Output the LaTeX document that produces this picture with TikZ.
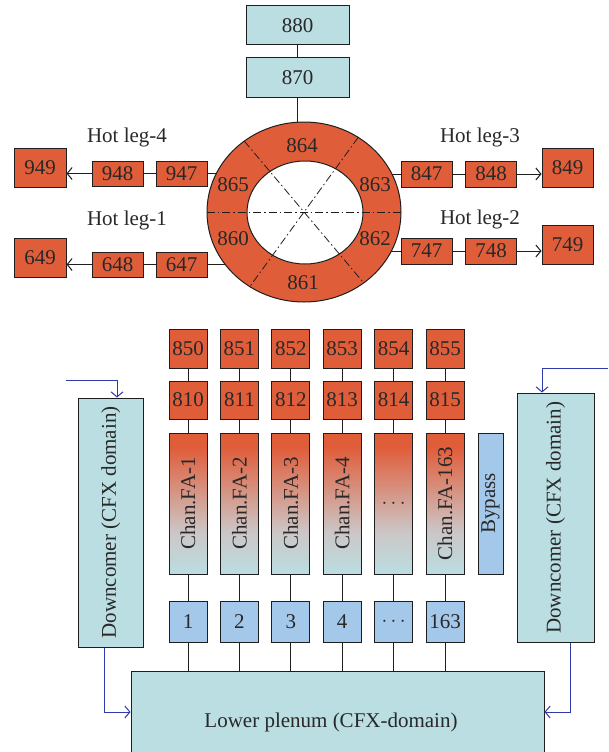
\documentclass[tikz,border=0pt]{standalone}
\usepackage{fontspec}
\setmainfont{Liberation Serif}
\usetikzlibrary{arrows.meta,shapes.geometric,backgrounds}
\definecolor{org}{RGB}{224,93,58}
\definecolor{cy}{RGB}{186,222,226}
\definecolor{bl}{RGB}{164,200,234}
\definecolor{gr}{RGB}{204,198,198}
\definecolor{arr}{RGB}{48,58,168}
\definecolor{txt}{RGB}{40,40,40}
\definecolor{ln}{RGB}{30,30,30}
\pgfdeclareverticalshading{chanshade}{100bp}{color(0bp)=(cy); color(25bp)=(cy); color(40bp)=(gr); color(70bp)=(org); color(100bp)=(org)}
\tikzset{
 base/.style={draw=ln, line width=1pt, text=txt, font=\fontsize{21}{23}\selectfont, inner sep=0pt},
 obox/.style={base, fill=org},
 cbox/.style={base, fill=cy},
 bbox/.style={base, fill=bl},
 chbox/.style={base, shade, shading=chanshade, minimum width=38pt, minimum height=141pt},
 lbl/.style={text=txt, font=\fontsize{21}{23}\selectfont, inner sep=0pt},
 conn/.style={draw=ln, line width=1pt},
 flow/.style={draw=arr, line width=1pt, -{Straight Barb[length=5pt,width=12pt]}},
 leg/.style={draw=ln, line width=1pt, -{Straight Barb[length=5pt,width=12pt]}},
 dd/.style={draw=ln, dash pattern=on 8pt off 3pt on 1.5pt off 3pt, line width=0.8pt}
}
\begin{document}
\begin{tikzpicture}[x=1pt,y=-1pt]
\useasboundingbox (0,0) rectangle (608,752);
\clip (0,0) rectangle (608,752);
% top vessels
\node[cbox, minimum width=103pt, minimum height=39pt] (n880) at (297.5,25.5) {880};
\node[cbox, minimum width=103pt, minimum height=39pt] (n870) at (297.5,77.5) {870};
% ring
\node[ellipse, draw=ln, line width=1pt, fill=org, minimum width=194pt, minimum height=180pt, inner sep=0pt] (ring) at (304,212) {};
\node[ellipse, draw=ln, line width=1pt, fill=white, minimum width=116pt, minimum height=103pt, inner sep=0pt] (hole) at (305,212.5) {};
\coordinate (dA1) at (244.3,141.1);
\coordinate (dA2) at (363.7,282.9);
\coordinate (dB1) at (358.2,137.4);
\coordinate (dB2) at (249.8,286.6);
\draw[dd] (ring.west) -- (ring.east);
\draw[dd] (dA1) -- (dA2);
\draw[dd] (dB1) -- (dB2);
\node[lbl] (s864) at (302,146) {864};
\node[lbl] (s865) at (233,185) {865};
\node[lbl] (s863) at (375,185) {863};
\node[lbl] (s860) at (233,239) {860};
\node[lbl] (s862) at (375,239) {862};
\node[lbl] (s861) at (303,283) {861};
% hot legs
\node[obox, minimum width=52pt, minimum height=39pt] (n949) at (40,167.5) {949};
\node[obox, minimum width=51pt, minimum height=25pt] (n948) at (117.5,173.5) {948};
\node[obox, minimum width=51pt, minimum height=25pt] (n947) at (181.5,173.5) {947};
\node[obox, minimum width=52pt, minimum height=39pt] (n649) at (40,257.5) {649};
\node[obox, minimum width=51pt, minimum height=25pt] (n648) at (117.5,264.5) {648};
\node[obox, minimum width=51pt, minimum height=25pt] (n647) at (181.5,264.5) {647};
\node[obox, minimum width=51pt, minimum height=26pt] (n847) at (426.5,174) {847};
\node[obox, minimum width=51pt, minimum height=26pt] (n848) at (491,174) {848};
\node[obox, minimum width=51pt, minimum height=39pt] (n849) at (567.5,167.5) {849};
\node[obox, minimum width=51pt, minimum height=26pt] (n747) at (426.5,251) {747};
\node[obox, minimum width=51pt, minimum height=26pt] (n748) at (491,251) {748};
\node[obox, minimum width=51pt, minimum height=39pt] (n749) at (567.5,244.5) {749};
\node[lbl] (hl4) at (127,137) {Hot leg-4};
\node[lbl] (hl1) at (127,220) {Hot leg-1};
\node[lbl] (hl3) at (480,137) {Hot leg-3};
\node[lbl] (hl2) at (480,219) {Hot leg-2};
\begin{pgfonlayer}{background}
\draw[conn] (n880) -- (n870);
\draw[conn] (n870.south) -- (n870.south |- ring.center);
\draw[conn] (n947.east) -- (n947.east -| ring.center);
\draw[conn] (n647.east) -- (n647.east -| ring.center);
\draw[conn] (n847.west) -- (n847.west -| ring.center);
\draw[conn] (n747.west) -- (n747.west -| ring.center);
\end{pgfonlayer}
\draw[conn] (n947) -- (n948);
\draw[conn] (n647) -- (n648);
\draw[conn] (n847) -- (n848);
\draw[conn] (n747) -- (n748);
\draw[leg] (n948.west) -- (n948.west -| n949.east);
\draw[leg] (n648.west) -- (n648.west -| n649.east);
\draw[leg] (n848.east) -- (n848.east -| n849.west);
\draw[leg] (n748.east) -- (n748.east -| n749.west);
% core channels
\foreach \i/\x/\a/\b/\c/\d in {1/188/850/810/Chan.FA-1/1, 2/239.4/851/811/Chan.FA-2/2, 3/290.8/852/812/Chan.FA-3/3, 4/342.2/853/813/Chan.FA-4/4, 6/445/855/815/Chan.FA-163/163}{
 \node[obox, minimum width=38pt, minimum height=39pt] (u\i) at (\x,348.5) {\a};
 \node[obox, minimum width=38pt, minimum height=38pt] (v\i) at (\x,400) {\b};
 \node[chbox] (c\i) at (\x,503.5) {};
 \node[lbl, rotate=90] (cl\i) at (c\i) {\c};
 \node[bbox, minimum width=38pt, minimum height=41pt] (w\i) at (\x,621.5) {\d};
}
\node[obox, minimum width=38pt, minimum height=39pt] (u5) at (393.6,348.5) {854};
\node[obox, minimum width=38pt, minimum height=38pt] (v5) at (393.6,400) {814};
\node[chbox] (c5) at (393.6,503.5) {};
\node[lbl] (cl5) at (c5) {$\cdots$};
\node[bbox, minimum width=38pt, minimum height=41pt] (w5) at (393.6,621.5) {$\cdots$};
\node[bbox, minimum width=25pt, minimum height=141pt] (byp) at (490.5,503.5) {};
\node[lbl, rotate=90] (bypl) at (byp) {Bypass};
% plenum and downcomers
\node[cbox, minimum width=413pt, minimum height=99pt] (plen) at (337.5,720.5) {};
\node[lbl] (plenl) at (331,722) {Lower plenum (CFX-domain)};
\node[cbox, minimum width=65.5pt, minimum height=249pt] (dcL) at (110.75,522.5) {};
\node[lbl, rotate=90] (dcLl) at (dcL) {Downcomer (CFX domain)};
\node[cbox, minimum width=77pt, minimum height=249.5pt] (dcR) at (555.5,517.75) {};
\node[lbl, rotate=90] (dcRl) at (dcR) {Downcomer (CFX domain)};
\foreach \i in {1,...,6}{
 \draw[conn] (u\i) -- (v\i);
 \draw[conn] (v\i) -- (c\i);
 \draw[conn] (c\i) -- (w\i);
 \draw[conn] (w\i.south) -- (w\i.south |- plen.north);
}
% flows
\coordinate (inL) at (66,380);
\coordinate (inR) at (608,368);
\draw[flow] (inL) -| ([xshift=6.25pt]dcL.north);
\draw[flow] (inR) -| ([xshift=-13.5pt]dcR.north);
\draw[flow] ([xshift=-6pt]dcL.south) |- (plen.west |- 0,712);
\draw[flow] ([xshift=14.5pt]dcR.south) |- (plen.east |- 0,712);
\end{tikzpicture}
\end{document}
